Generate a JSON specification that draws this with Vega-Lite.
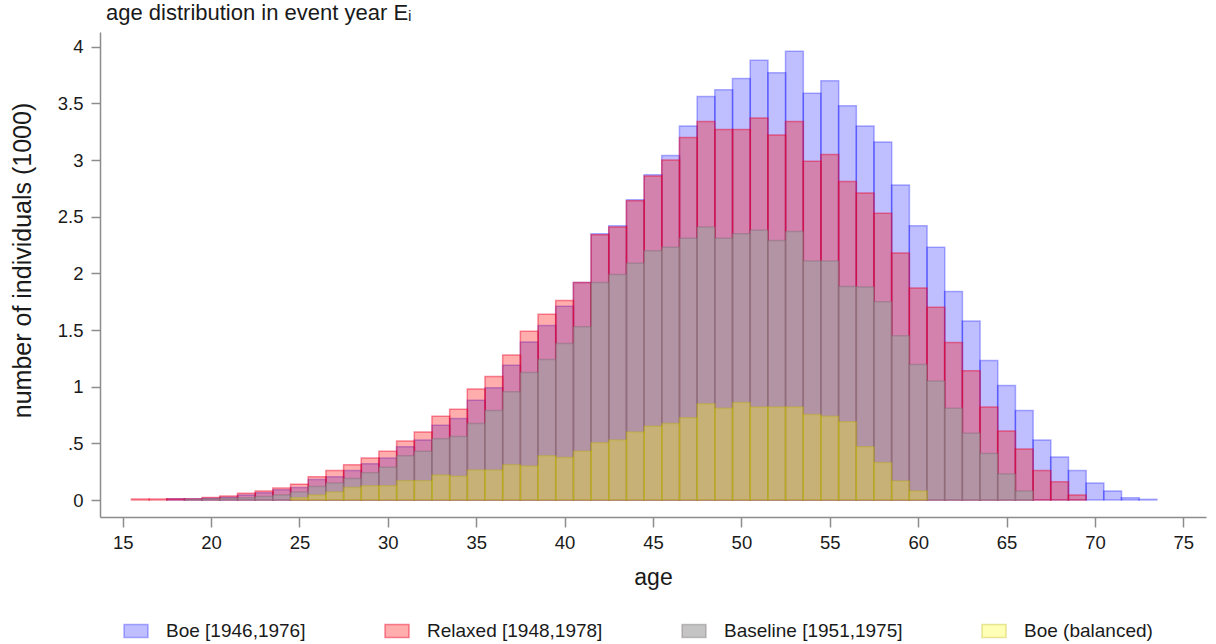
{
  "$schema": "https://vega.github.io/schema/vega-lite/v6.json",
  "width": 1106,
  "height": 485,
  "autosize": {"type": "none"},
  "padding": {"left": 100, "top": 32, "right": 10, "bottom": 127},
  "background": "white",
  "title": {"text": "age distribution in event year Eᵢ", "anchor": "start", "frame": "group", "offset": 12, "baseline": "alphabetic", "dx": 6, "dy": 22, "fontSize": 22, "fontWeight": "normal", "font": "Liberation Sans", "color": "#1a1a1a"},
  "config": {
    "view": {"stroke": null},
    "axis": {"grid": false, "domainColor": "#8c8c8c", "domainWidth": 1.5, "tickColor": "#8c8c8c", "tickWidth": 1.5, "labelFont": "Liberation Sans", "titleFont": "Liberation Sans", "labelColor": "#1a1a1a", "titleColor": "#1a1a1a", "labelFontSize": 18.5, "titleFontSize": 23, "titleFontWeight": "normal"},
    "legend": {"labelFont": "Liberation Sans", "labelFontSize": 19, "labelColor": "#1a1a1a", "labelLimit": 400, "symbolType": "M-1,-0.54H1V0.54H-1Z", "symbolSize": 576, "symbolStrokeWidth": 1.5, "labelOffset": 17, "columnPadding": 76}
  },
  "data": {"values": [
    {"age":18,"group":"Boe [1946,1976]","n":0.01},{"age":19,"group":"Boe [1946,1976]","n":0.01},{"age":20,"group":"Boe [1946,1976]","n":0.015},{"age":21,"group":"Boe [1946,1976]","n":0.025},{"age":22,"group":"Boe [1946,1976]","n":0.045},{"age":23,"group":"Boe [1946,1976]","n":0.065},{"age":24,"group":"Boe [1946,1976]","n":0.09},{"age":25,"group":"Boe [1946,1976]","n":0.11},{"age":26,"group":"Boe [1946,1976]","n":0.18},{"age":27,"group":"Boe [1946,1976]","n":0.205},{"age":28,"group":"Boe [1946,1976]","n":0.26},{"age":29,"group":"Boe [1946,1976]","n":0.32},{"age":30,"group":"Boe [1946,1976]","n":0.37},{"age":31,"group":"Boe [1946,1976]","n":0.47},{"age":32,"group":"Boe [1946,1976]","n":0.53},{"age":33,"group":"Boe [1946,1976]","n":0.66},{"age":34,"group":"Boe [1946,1976]","n":0.72},{"age":35,"group":"Boe [1946,1976]","n":0.88},{"age":36,"group":"Boe [1946,1976]","n":0.99},{"age":37,"group":"Boe [1946,1976]","n":1.19},{"age":38,"group":"Boe [1946,1976]","n":1.395},{"age":39,"group":"Boe [1946,1976]","n":1.54},{"age":40,"group":"Boe [1946,1976]","n":1.71},{"age":41,"group":"Boe [1946,1976]","n":1.92},{"age":42,"group":"Boe [1946,1976]","n":2.35},{"age":43,"group":"Boe [1946,1976]","n":2.42},{"age":44,"group":"Boe [1946,1976]","n":2.65},{"age":45,"group":"Boe [1946,1976]","n":2.87},{"age":46,"group":"Boe [1946,1976]","n":3.04},{"age":47,"group":"Boe [1946,1976]","n":3.3},{"age":48,"group":"Boe [1946,1976]","n":3.56},{"age":49,"group":"Boe [1946,1976]","n":3.62},{"age":50,"group":"Boe [1946,1976]","n":3.72},{"age":51,"group":"Boe [1946,1976]","n":3.88},{"age":52,"group":"Boe [1946,1976]","n":3.77},{"age":53,"group":"Boe [1946,1976]","n":3.96},{"age":54,"group":"Boe [1946,1976]","n":3.59},{"age":55,"group":"Boe [1946,1976]","n":3.7},{"age":56,"group":"Boe [1946,1976]","n":3.48},{"age":57,"group":"Boe [1946,1976]","n":3.3},{"age":58,"group":"Boe [1946,1976]","n":3.16},{"age":59,"group":"Boe [1946,1976]","n":2.78},{"age":60,"group":"Boe [1946,1976]","n":2.42},{"age":61,"group":"Boe [1946,1976]","n":2.23},{"age":62,"group":"Boe [1946,1976]","n":1.84},{"age":63,"group":"Boe [1946,1976]","n":1.58},{"age":64,"group":"Boe [1946,1976]","n":1.23},{"age":65,"group":"Boe [1946,1976]","n":1.01},{"age":66,"group":"Boe [1946,1976]","n":0.79},{"age":67,"group":"Boe [1946,1976]","n":0.53},{"age":68,"group":"Boe [1946,1976]","n":0.38},{"age":69,"group":"Boe [1946,1976]","n":0.26},{"age":70,"group":"Boe [1946,1976]","n":0.15},{"age":71,"group":"Boe [1946,1976]","n":0.08},{"age":72,"group":"Boe [1946,1976]","n":0.02},{"age":73,"group":"Boe [1946,1976]","n":0.006},
    {"age":16,"group":"Relaxed [1948,1978]","n":0.008},{"age":17,"group":"Relaxed [1948,1978]","n":0.008},{"age":18,"group":"Relaxed [1948,1978]","n":0.012},{"age":19,"group":"Relaxed [1948,1978]","n":0.01},{"age":20,"group":"Relaxed [1948,1978]","n":0.023},{"age":21,"group":"Relaxed [1948,1978]","n":0.035},{"age":22,"group":"Relaxed [1948,1978]","n":0.06},{"age":23,"group":"Relaxed [1948,1978]","n":0.08},{"age":24,"group":"Relaxed [1948,1978]","n":0.105},{"age":25,"group":"Relaxed [1948,1978]","n":0.14},{"age":26,"group":"Relaxed [1948,1978]","n":0.205},{"age":27,"group":"Relaxed [1948,1978]","n":0.26},{"age":28,"group":"Relaxed [1948,1978]","n":0.31},{"age":29,"group":"Relaxed [1948,1978]","n":0.37},{"age":30,"group":"Relaxed [1948,1978]","n":0.43},{"age":31,"group":"Relaxed [1948,1978]","n":0.52},{"age":32,"group":"Relaxed [1948,1978]","n":0.6},{"age":33,"group":"Relaxed [1948,1978]","n":0.74},{"age":34,"group":"Relaxed [1948,1978]","n":0.8},{"age":35,"group":"Relaxed [1948,1978]","n":0.98},{"age":36,"group":"Relaxed [1948,1978]","n":1.09},{"age":37,"group":"Relaxed [1948,1978]","n":1.28},{"age":38,"group":"Relaxed [1948,1978]","n":1.49},{"age":39,"group":"Relaxed [1948,1978]","n":1.64},{"age":40,"group":"Relaxed [1948,1978]","n":1.76},{"age":41,"group":"Relaxed [1948,1978]","n":1.92},{"age":42,"group":"Relaxed [1948,1978]","n":2.34},{"age":43,"group":"Relaxed [1948,1978]","n":2.41},{"age":44,"group":"Relaxed [1948,1978]","n":2.64},{"age":45,"group":"Relaxed [1948,1978]","n":2.86},{"age":46,"group":"Relaxed [1948,1978]","n":3.0},{"age":47,"group":"Relaxed [1948,1978]","n":3.2},{"age":48,"group":"Relaxed [1948,1978]","n":3.34},{"age":49,"group":"Relaxed [1948,1978]","n":3.27},{"age":50,"group":"Relaxed [1948,1978]","n":3.27},{"age":51,"group":"Relaxed [1948,1978]","n":3.37},{"age":52,"group":"Relaxed [1948,1978]","n":3.22},{"age":53,"group":"Relaxed [1948,1978]","n":3.34},{"age":54,"group":"Relaxed [1948,1978]","n":2.99},{"age":55,"group":"Relaxed [1948,1978]","n":3.05},{"age":56,"group":"Relaxed [1948,1978]","n":2.81},{"age":57,"group":"Relaxed [1948,1978]","n":2.71},{"age":58,"group":"Relaxed [1948,1978]","n":2.53},{"age":59,"group":"Relaxed [1948,1978]","n":2.18},{"age":60,"group":"Relaxed [1948,1978]","n":1.87},{"age":61,"group":"Relaxed [1948,1978]","n":1.7},{"age":62,"group":"Relaxed [1948,1978]","n":1.39},{"age":63,"group":"Relaxed [1948,1978]","n":1.14},{"age":64,"group":"Relaxed [1948,1978]","n":0.82},{"age":65,"group":"Relaxed [1948,1978]","n":0.61},{"age":66,"group":"Relaxed [1948,1978]","n":0.45},{"age":67,"group":"Relaxed [1948,1978]","n":0.26},{"age":68,"group":"Relaxed [1948,1978]","n":0.16},{"age":69,"group":"Relaxed [1948,1978]","n":0.044},
    {"age":19,"group":"Baseline [1951,1975]","n":0.005},{"age":20,"group":"Baseline [1951,1975]","n":0.01},{"age":21,"group":"Baseline [1951,1975]","n":0.015},{"age":22,"group":"Baseline [1951,1975]","n":0.02},{"age":23,"group":"Baseline [1951,1975]","n":0.03},{"age":24,"group":"Baseline [1951,1975]","n":0.045},{"age":25,"group":"Baseline [1951,1975]","n":0.07},{"age":26,"group":"Baseline [1951,1975]","n":0.12},{"age":27,"group":"Baseline [1951,1975]","n":0.15},{"age":28,"group":"Baseline [1951,1975]","n":0.19},{"age":29,"group":"Baseline [1951,1975]","n":0.24},{"age":30,"group":"Baseline [1951,1975]","n":0.29},{"age":31,"group":"Baseline [1951,1975]","n":0.39},{"age":32,"group":"Baseline [1951,1975]","n":0.43},{"age":33,"group":"Baseline [1951,1975]","n":0.54},{"age":34,"group":"Baseline [1951,1975]","n":0.56},{"age":35,"group":"Baseline [1951,1975]","n":0.675},{"age":36,"group":"Baseline [1951,1975]","n":0.79},{"age":37,"group":"Baseline [1951,1975]","n":0.955},{"age":38,"group":"Baseline [1951,1975]","n":1.125},{"age":39,"group":"Baseline [1951,1975]","n":1.24},{"age":40,"group":"Baseline [1951,1975]","n":1.38},{"age":41,"group":"Baseline [1951,1975]","n":1.53},{"age":42,"group":"Baseline [1951,1975]","n":1.92},{"age":43,"group":"Baseline [1951,1975]","n":1.99},{"age":44,"group":"Baseline [1951,1975]","n":2.09},{"age":45,"group":"Baseline [1951,1975]","n":2.2},{"age":46,"group":"Baseline [1951,1975]","n":2.23},{"age":47,"group":"Baseline [1951,1975]","n":2.31},{"age":48,"group":"Baseline [1951,1975]","n":2.41},{"age":49,"group":"Baseline [1951,1975]","n":2.31},{"age":50,"group":"Baseline [1951,1975]","n":2.35},{"age":51,"group":"Baseline [1951,1975]","n":2.38},{"age":52,"group":"Baseline [1951,1975]","n":2.29},{"age":53,"group":"Baseline [1951,1975]","n":2.37},{"age":54,"group":"Baseline [1951,1975]","n":2.11},{"age":55,"group":"Baseline [1951,1975]","n":2.11},{"age":56,"group":"Baseline [1951,1975]","n":1.885},{"age":57,"group":"Baseline [1951,1975]","n":1.88},{"age":58,"group":"Baseline [1951,1975]","n":1.75},{"age":59,"group":"Baseline [1951,1975]","n":1.45},{"age":60,"group":"Baseline [1951,1975]","n":1.195},{"age":61,"group":"Baseline [1951,1975]","n":1.05},{"age":62,"group":"Baseline [1951,1975]","n":0.81},{"age":63,"group":"Baseline [1951,1975]","n":0.59},{"age":64,"group":"Baseline [1951,1975]","n":0.41},{"age":65,"group":"Baseline [1951,1975]","n":0.23},{"age":66,"group":"Baseline [1951,1975]","n":0.08},
    {"age":25,"group":"Boe (balanced)","n":0.02},{"age":26,"group":"Boe (balanced)","n":0.045},{"age":27,"group":"Boe (balanced)","n":0.07},{"age":28,"group":"Boe (balanced)","n":0.11},{"age":29,"group":"Boe (balanced)","n":0.126},{"age":30,"group":"Boe (balanced)","n":0.126},{"age":31,"group":"Boe (balanced)","n":0.17},{"age":32,"group":"Boe (balanced)","n":0.17},{"age":33,"group":"Boe (balanced)","n":0.22},{"age":34,"group":"Boe (balanced)","n":0.21},{"age":35,"group":"Boe (balanced)","n":0.264},{"age":36,"group":"Boe (balanced)","n":0.264},{"age":37,"group":"Boe (balanced)","n":0.31},{"age":38,"group":"Boe (balanced)","n":0.3},{"age":39,"group":"Boe (balanced)","n":0.39},{"age":40,"group":"Boe (balanced)","n":0.376},{"age":41,"group":"Boe (balanced)","n":0.43},{"age":42,"group":"Boe (balanced)","n":0.505},{"age":43,"group":"Boe (balanced)","n":0.53},{"age":44,"group":"Boe (balanced)","n":0.6},{"age":45,"group":"Boe (balanced)","n":0.65},{"age":46,"group":"Boe (balanced)","n":0.675},{"age":47,"group":"Boe (balanced)","n":0.725},{"age":48,"group":"Boe (balanced)","n":0.85},{"age":49,"group":"Boe (balanced)","n":0.81},{"age":50,"group":"Boe (balanced)","n":0.86},{"age":51,"group":"Boe (balanced)","n":0.82},{"age":52,"group":"Boe (balanced)","n":0.82},{"age":53,"group":"Boe (balanced)","n":0.82},{"age":54,"group":"Boe (balanced)","n":0.755},{"age":55,"group":"Boe (balanced)","n":0.74},{"age":56,"group":"Boe (balanced)","n":0.69},{"age":57,"group":"Boe (balanced)","n":0.47},{"age":58,"group":"Boe (balanced)","n":0.33},{"age":59,"group":"Boe (balanced)","n":0.167},{"age":60,"group":"Boe (balanced)","n":0.08}
  ]},
  "mark": {"type": "bar", "width": 17.84, "strokeWidth": 1.5},
  "encoding": {
    "x": {"field": "age", "type": "quantitative", "scale": {"domain": [14, 76], "nice": false, "zero": false},
      "axis": {"values": [15,20,25,30,35,40,45,50,55,60,65,70,75], "title": "age", "tickSize": 10, "labelPadding": 6, "labelFlush": false, "titleY": 67, "titleBaseline": "alphabetic"}},
    "y": {"field": "n", "type": "quantitative", "stack": null, "scale": {"domain": [-0.15, 4.13], "nice": false, "zero": false},
      "axis": {"values": [0,0.5,1,1.5,2,2.5,3,3.5,4], "labelExpr": "datum.value == 0.5 ? '.5' : format(datum.value, '~g')", "title": "number of individuals (1000)", "titleFontSize": 25, "tickSize": 9, "labelPadding": 8, "titleX": -70, "titleY": 228, "titleBaseline": "alphabetic"}},
    "y2": {"datum": 0},
    "fill": {"field": "group", "type": "nominal",
      "scale": {"domain": ["Boe [1946,1976]", "Relaxed [1948,1978]", "Baseline [1951,1975]", "Boe (balanced)"], "range": ["rgba(0,0,255,0.25)", "rgba(255,0,0,0.32)", "rgba(160,160,160,0.62)", "rgba(255,255,0,0.28)"]},
      "legend": {"title": null, "orient": "none", "legendX": 23, "legendY": 586, "direction": "horizontal"}},
    "stroke": {"field": "group", "type": "nominal",
      "scale": {"domain": ["Boe [1946,1976]", "Relaxed [1948,1978]", "Baseline [1951,1975]", "Boe (balanced)"], "range": ["rgba(0,0,255,0.3)", "rgba(235,0,40,0.45)", "rgba(120,110,115,0.4)", "rgba(190,180,0,0.35)"]},
      "legend": {"title": null, "orient": "none", "legendX": 23, "legendY": 586, "direction": "horizontal"}}
  }
}
